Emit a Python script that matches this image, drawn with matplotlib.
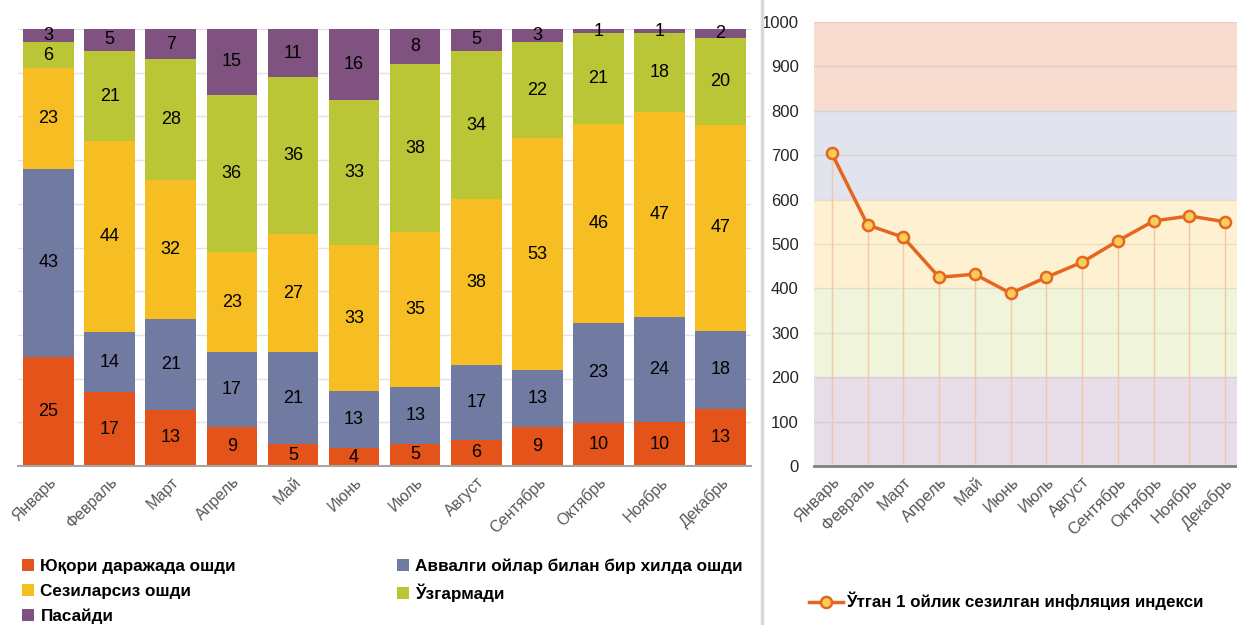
import numpy as np
import matplotlib.pyplot as plt

plt.rcParams['font.family'] = ['Liberation Sans', 'DejaVu Sans']

months = ['Январь', 'Февраль', 'Март', 'Апрель', 'Май', 'Июнь',
          'Июль', 'Август', 'Сентябрь', 'Октябрь', 'Ноябрь', 'Декабрь']

# answer shares, %
high = [25, 17, 13, 9, 5, 4, 5, 6, 9, 10, 10, 13]
same = [43, 14, 21, 17, 21, 13, 13, 17, 13, 23, 24, 18]
slight = [23, 44, 32, 23, 27, 33, 35, 38, 53, 46, 47, 47]
nochange = [6, 21, 28, 36, 36, 33, 38, 34, 22, 21, 18, 20]
fell = [3, 5, 7, 15, 11, 16, 8, 5, 3, 1, 1, 2]

series_names = ['Юқори даражада ошди', 'Аввалги ойлар билан бир хилда ошди',
                'Сезиларсиз ошди', 'Ўзгармади', 'Пасайди']
series_colors = ['#E4541A', '#717AA0', '#F6BE22', '#BAC636', '#7F5280']

# perceived inflation index
index_vals = [704, 543, 515, 425, 432, 389, 425, 459, 507, 552, 563, 550]
index_name = 'Ўтган 1 ойлик сезилган инфляция индекси'

fig = plt.figure(figsize=(12.37, 6.25), dpi=100)

# ---- left: 100% stacked bars
ax = fig.add_axes([0.0146, 0.2544, 0.5926, 0.6992])
data = np.array([high, same, slight, nochange, fell], dtype=float)
shares = data / data.sum(axis=0) * 100
x = np.arange(len(months))
bottom = np.zeros(len(months))
for vals, raw, col, name in zip(shares, data, series_colors, series_names):
    ax.bar(x, vals, 0.83, bottom=bottom, color=col, label=name, zorder=2)
    for xi, b, v, r in zip(x, bottom, vals, raw):
        ax.text(xi, b + v / 2, f'{int(r)}', ha='center', va='center',
                fontsize=13, color='black', zorder=3)
    bottom += vals

ax.set_xlim(-0.5, 11.5)
ax.set_ylim(0, 100)
ax.set_yticks(np.arange(0, 101, 10))
ax.yaxis.grid(True, color='#E3E3E3', linewidth=1)
ax.set_axisbelow(True)
ax.tick_params(axis='y', left=False, labelleft=False)
ax.tick_params(axis='x', length=0, pad=6)
ax.set_xticks(x)
ax.set_xticklabels(months, rotation=45, ha='right', rotation_mode='anchor',
                   fontsize=11.5, color='#595959')
for s in ['top', 'right', 'left']:
    ax.spines[s].set_visible(False)
ax.spines['bottom'].set_color('#A6A6A6')
ax.spines['bottom'].set_linewidth(1.5)

# legend read row by row in the reference -> reorder for column filling
handles, labels = ax.get_legend_handles_labels()
order = [0, 2, 4, 1, 3]
fig.legend([handles[i] for i in order], [labels[i] for i in order],
           loc='upper left', bbox_to_anchor=(0.012, 0.117), ncol=2,
           frameon=False, prop={'weight': 'bold', 'size': 12.3},
           handlelength=0.7, handleheight=0.7, handletextpad=0.4,
           columnspacing=9.4, labelspacing=0.55, borderaxespad=0)

# ---- separator
fig.add_artist(plt.Line2D([762 / 1237, 762 / 1237], [0, 1], color='#D9D9D9',
                          linewidth=2.5))

# ---- right: index line
ax2 = fig.add_axes([0.658, 0.2544, 0.342, 0.7104])
bands = [(0, 200, '#E6DDE8'), (200, 400, '#F0F4DA'), (400, 600, '#FDF1D2'),
         (600, 800, '#E1E4EC'), (800, 1000, '#F8DCD0')]
for lo, hi, col in bands:
    ax2.axhspan(lo, hi, color=col, zorder=0, linewidth=0)
for yv in range(100, 1001, 100):
    ax2.axhline(yv, color='#000000', alpha=0.07, linewidth=1, zorder=1)
ax2.vlines(x, 0, index_vals, color='#F4C6A5', linewidth=1, zorder=2)
ax2.plot(x, index_vals, color='#E5661E', linewidth=2.5, marker='o',
         markersize=8, markerfacecolor='#F9CD5A', markeredgecolor='#E5661E',
         markeredgewidth=1.8, zorder=3, label=index_name)
ax2.set_xlim(-0.5, 11.33)
ax2.set_ylim(0, 1000)
ax2.set_yticks(np.arange(0, 1001, 100))
ax2.tick_params(axis='y', length=0, pad=11, labelsize=12, labelcolor='#262626')
ax2.set_xticks(x)
ax2.set_xticklabels(months, rotation=45, ha='right', rotation_mode='anchor',
                    fontsize=12, color='#595959')
ax2.tick_params(axis='x', length=0, pad=6)
for s in ['top', 'right', 'left']:
    ax2.spines[s].set_visible(False)
ax2.spines['bottom'].set_color('#808080')
ax2.spines['bottom'].set_linewidth(2)

fig.legend(*ax2.get_legend_handles_labels(), loc='center left',
           bbox_to_anchor=(0.6485, 0.038), frameon=False,
           prop={'weight': 'bold', 'size': 12.2}, handlelength=2.0,
           handletextpad=0.2, borderaxespad=0)

fig.savefig('out.png', dpi=100)
